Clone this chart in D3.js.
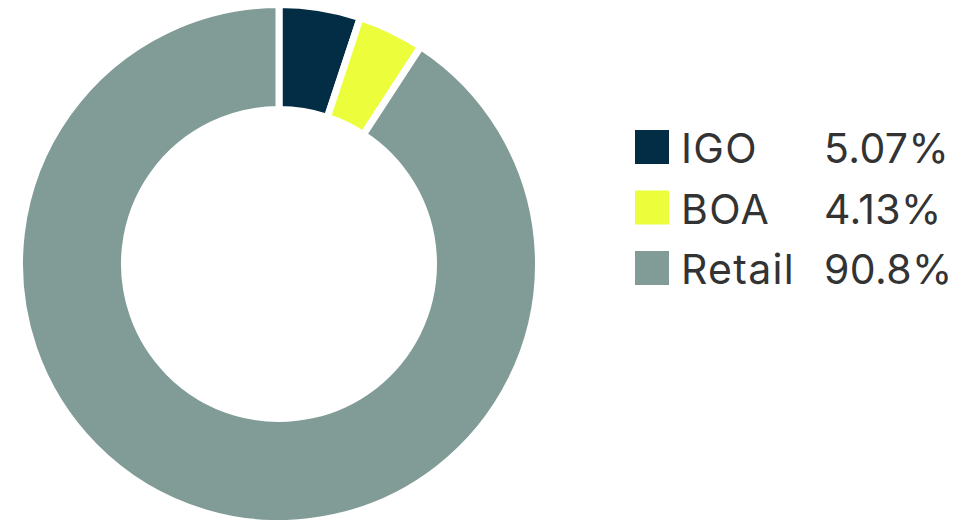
<!DOCTYPE html>
<html>
<head>
<meta charset="utf-8">
<script src="https://cdn.jsdelivr.net/npm/d3@7"></script>
<style>
  body { margin: 0; background: #fff; }
  text { font-family: Inter, "Noto Sans", sans-serif; }
</style>
</head>
<body>
<div id="chart"></div>
<script>
const categories = ["IGO", "BOA", "Retail"];
const shares = [5.07, 4.13, 90.8];
const shareLabels = ["5.07%", "4.13%", "90.8%"];
const colors = ["#032d45", "#ecfd3c", "#819c96"];

const svgWidth = 972;
const svgHeight = 520;
const cx = 279;
const cy = 264;
const outerR = 259.5;
const innerR = 154.5;

const svg = d3
  .select("#chart")
  .append("svg")
  .attr("width", svgWidth)
  .attr("height", svgHeight);

const data = categories.map((c, i) => ({ name: c, value: shares[i], label: shareLabels[i], color: colors[i] }));

const pie = d3.pie().value((d) => d.value).sort(null);
const arc = d3.arc().innerRadius(innerR).outerRadius(outerR);

svg.append("g")
  .attr("transform", `translate(${cx},${cy})`)
  .selectAll("path")
  .data(pie(data))
  .join("path")
  .attr("d", arc)
  .style("fill", (d) => d.data.color)
  .style("stroke", "#fff")
  .style("stroke-width", 7);

// legend
const rowY = d3.scalePoint().domain(categories).range([130, 251]);

const legend = svg.append("g")
  .selectAll("g")
  .data(data)
  .join("g")
  .attr("transform", (d) => `translate(635,${rowY(d.name)})`);

legend.append("rect")
  .attr("width", 34)
  .attr("height", 34)
  .style("fill", (d) => d.color);

legend.append("text")
  .attr("x", 46)
  .attr("y", 33)
  .style("font-size", "41px")
  .style("letter-spacing", "1.3px")
  .style("fill", "#333")
  .text((d) => d.name);

legend.append("text")
  .attr("x", 189)
  .attr("y", 33)
  .style("font-size", "41px")
  .style("letter-spacing", "0.4px")
  .style("fill", "#333")
  .text((d) => d.label);
</script>
</body>
</html>
